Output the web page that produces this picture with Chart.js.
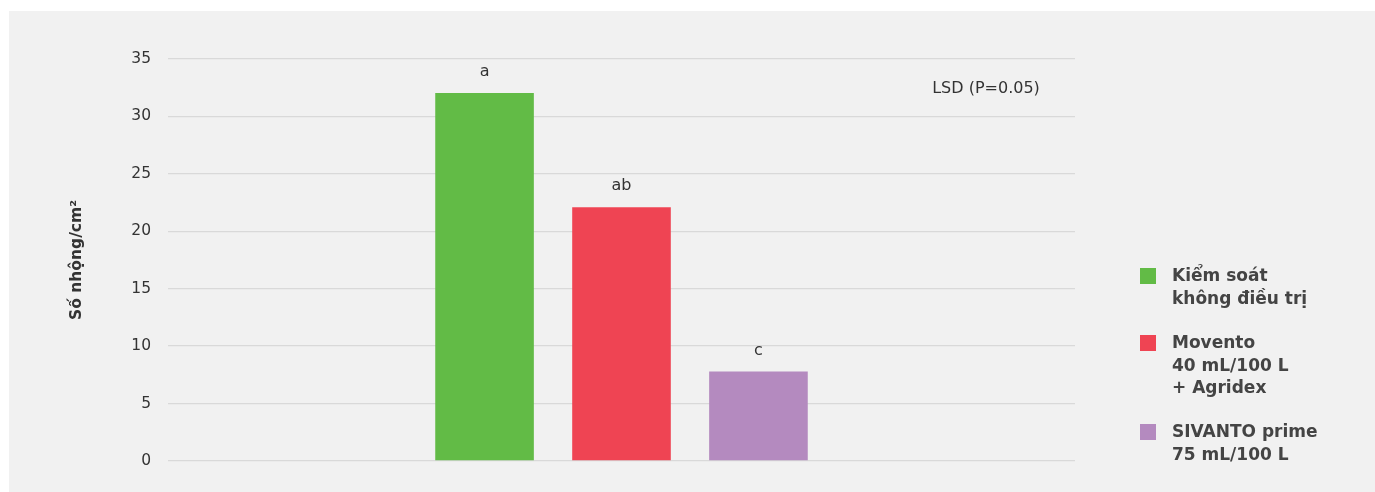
<!DOCTYPE html>
<html>
<head>
<meta charset="utf-8">
<script src="https://cdn.jsdelivr.net/npm/chart.js@4"></script>
<style>
html,body{margin:0;padding:0;background:#fff;}
#wrap{position:relative;width:1375px;height:492px;}
</style>
</head>
<body>
<div id="wrap"><canvas id="c" width="1375" height="492"></canvas></div>
<script>
const categories = [''];
const seriesNames = [
  ['Kiểm soát', 'không điều trị'],
  ['Movento', '40 mL/100 L', '+ Agridex'],
  ['SIVANTO prime', '75 mL/100 L']
];
const seriesValues = [[32.05], [22.1], [7.8]];
const letters = ['a', 'ab', 'c'];
const colors = ['#62bb46', '#ef4453', '#b48abf'];
const yTicks = [0, 5, 10, 15, 20, 25, 30, 35];
const yTitle = 'Số nhộng/cm²';
const note = 'LSD (P=0.05)';

const FONT = '"DejaVu Sans", "Liberation Sans", Arial, sans-serif';

const bgPlugin = {
  id: 'bg',
  beforeDraw(chart) {
    const ctx = chart.ctx;
    ctx.save();
    ctx.fillStyle = '#ffffff';
    ctx.fillRect(0, 0, chart.width, chart.height);
    ctx.fillStyle = '#f1f1f1';
    ctx.fillRect(9, 11, chart.width - 9, chart.height - 11);
    ctx.restore();
  }
};

const labelPlugin = {
  id: 'letters',
  afterDatasetsDraw(chart) {
    const ctx = chart.ctx;
    ctx.save();
    ctx.font = '16px ' + FONT;
    ctx.fillStyle = '#333333';
    ctx.textAlign = 'center';
    ctx.textBaseline = 'middle';
    chart.data.datasets.forEach((ds, i) => {
      const meta = chart.getDatasetMeta(i);
      meta.data.forEach(bar => {
        ctx.fillText(letters[i], bar.x, bar.y - 21);
      });
    });
    const a = chart.chartArea;
    ctx.fillText(note, a.right - 89, a.top + 30);
    ctx.restore();
  }
};

const legendPlugin = {
  id: 'sideLegend',
  afterDraw(chart) {
    const ctx = chart.ctx;
    const a = chart.chartArea;
    const x0 = a.right + 65;
    const tops = [268, 335, 424];
    const lh = 22.5;
    ctx.save();
    ctx.font = 'bold 17px ' + FONT;
    ctx.textBaseline = 'middle';
    ctx.textAlign = 'left';
    seriesNames.forEach((lines, i) => {
      const t = tops[i];
      ctx.fillStyle = colors[i];
      ctx.fillRect(x0, t, 16, 16);
      ctx.fillStyle = '#444444';
      lines.forEach((ln, j) => ctx.fillText(ln, x0 + 32, t + 9 + j * lh));
    });
    ctx.restore();
  }
};

new Chart(document.getElementById('c'), {
  type: 'bar',
  data: {
    labels: categories,
    datasets: seriesValues.map((v, i) => ({
      label: seriesNames[i].join(' '),
      data: v,
      backgroundColor: colors[i],
      borderWidth: 0,
      categoryPercentage: 0.453,
      barPercentage: 0.72
    }))
  },
  options: {
    responsive: false,
    animation: false,
    events: [],
    layout: { padding: { left: 9, right: 300, top: 59, bottom: 31 } },
    plugins: { legend: { display: false }, tooltip: { enabled: false } },
    scales: {
      x: { display: false },
      y: {
        min: 0, max: 35,
        afterBuildTicks(scale) { scale.ticks = yTicks.map(v => ({ value: v })); },
        afterFit(scale) { scale.width = 159; },
        border: { display: false },
        grid: { color: '#d9d9d9', lineWidth: 1.3, drawTicks: false },
        ticks: { padding: 17, color: '#333333', font: { family: FONT, size: 15.5 } },
        title: {
          display: true, text: yTitle, color: '#333333',
          font: { family: FONT, size: 15.5, weight: 'bold' },
          padding: { top: 59, bottom: 0 }
        }
      }
    }
  },
  plugins: [bgPlugin, labelPlugin, legendPlugin]
});
</script>
</body>
</html>
